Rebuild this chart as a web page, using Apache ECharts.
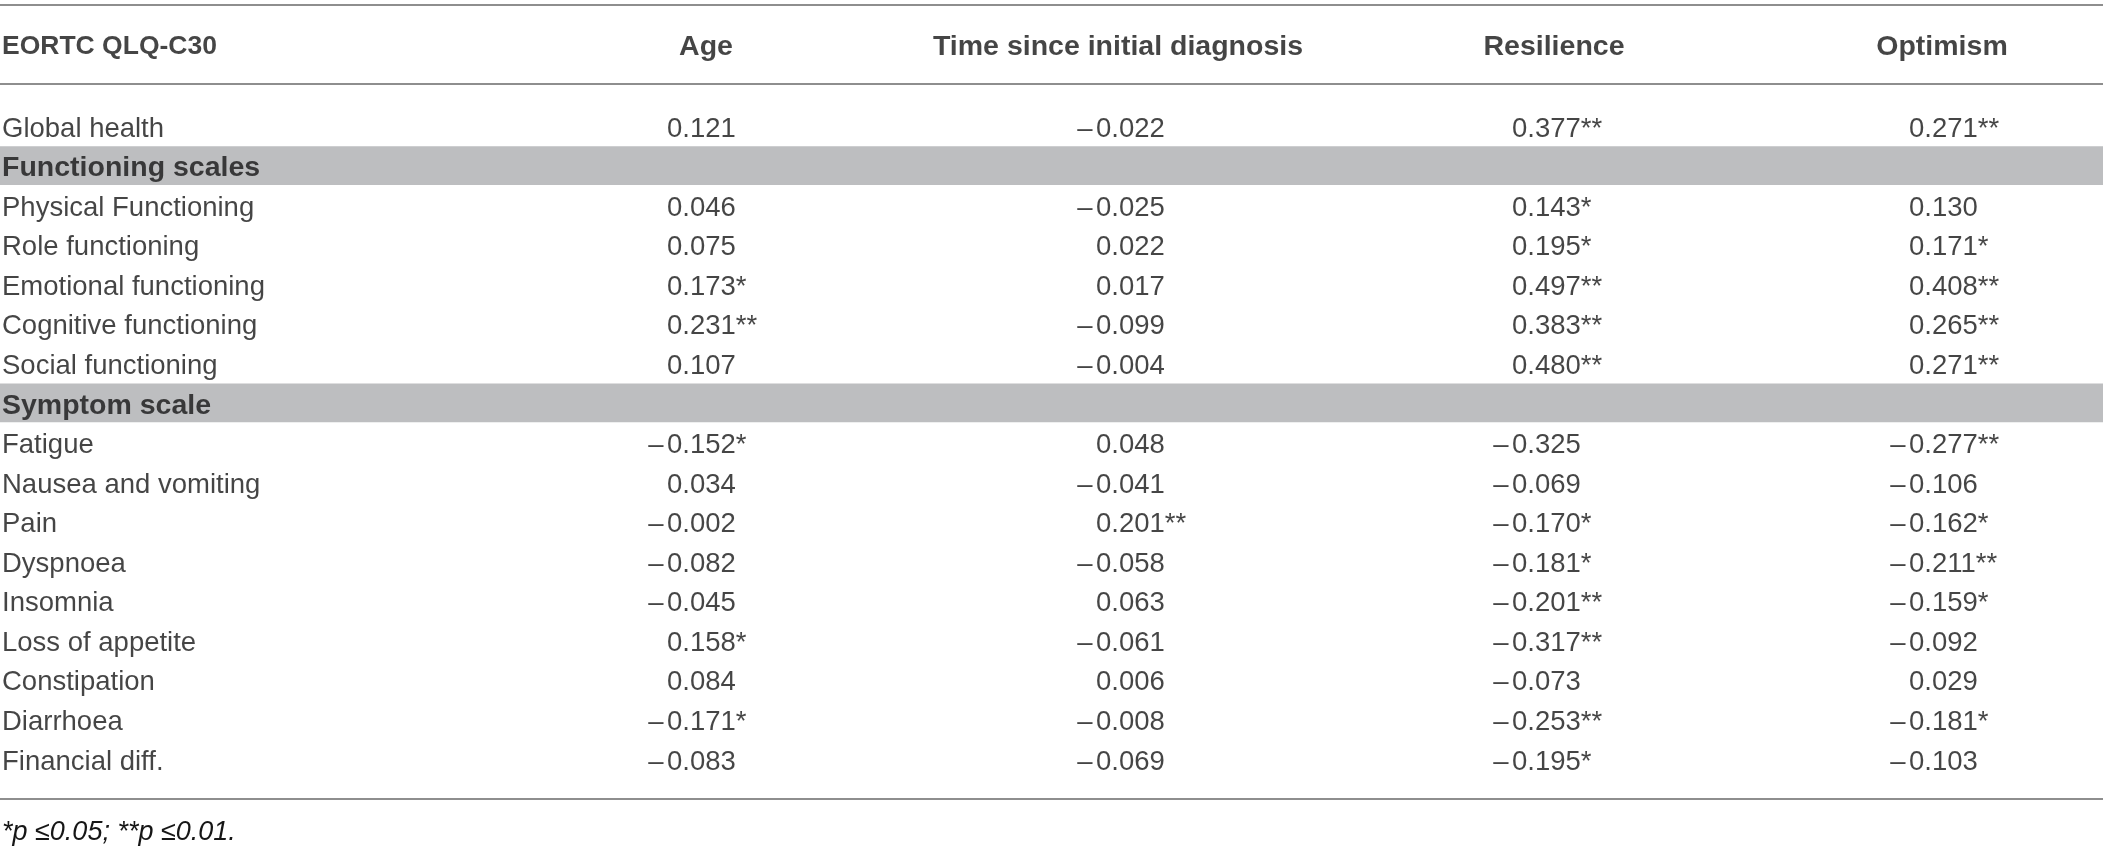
<!DOCTYPE html>
<html>
<head>
<meta charset="utf-8">
<script src="https://cdn.jsdelivr.net/npm/echarts@6/dist/echarts.min.js"></script>
<style>
    html, body { margin: 0; padding: 0; background: #fff; }
    #chart { width: 2103px; height: 857px; }
</style>
</head>
<body>
<div id="chart"></div>
<script>
// table content
const headers = ['EORTC QLQ-C30', 'Age', 'Time since initial diagnosis', 'Resilience', 'Optimism'];
const rowLabels = [
    'Global health', 'Functioning scales', 'Physical Functioning', 'Role functioning',
    'Emotional functioning', 'Cognitive functioning', 'Social functioning', 'Symptom scale',
    'Fatigue', 'Nausea and vomiting', 'Pain', 'Dyspnoea', 'Insomnia', 'Loss of appetite',
    'Constipation', 'Diarrhoea', 'Financial diff.'
];
const sectionRows = ['Functioning scales', 'Symptom scale'];

const age =        [0.121, null, 0.046, 0.075, 0.173, 0.231, 0.107, null, -0.152, 0.034, -0.002, -0.082, -0.045, 0.158, 0.084, -0.171, -0.083];
const ageSig =     ['', '', '', '', '*', '**', '', '', '*', '', '', '', '', '*', '', '*', ''];
const timeDx =     [-0.022, null, -0.025, 0.022, 0.017, -0.099, -0.004, null, 0.048, -0.041, 0.201, -0.058, 0.063, -0.061, 0.006, -0.008, -0.069];
const timeDxSig =  ['', '', '', '', '', '', '', '', '', '', '**', '', '', '', '', '', ''];
const resilience = [0.377, null, 0.143, 0.195, 0.497, 0.383, 0.480, null, -0.325, -0.069, -0.170, -0.181, -0.201, -0.317, -0.073, -0.253, -0.195];
const resilienceSig = ['**', '', '*', '*', '**', '**', '**', '', '', '', '*', '*', '**', '**', '', '**', '*'];
const optimism =   [0.271, null, 0.130, 0.171, 0.408, 0.265, 0.271, null, -0.277, -0.106, -0.162, -0.211, -0.159, -0.092, 0.029, -0.181, -0.103];
const optimismSig = ['**', '', '', '*', '**', '**', '**', '', '**', '', '*', '**', '*', '', '', '*', ''];
const footnote = '*p \u22640.05; **p \u22640.01.';

// layout (pixels)
const W = 2103, H = 857;
const ROW0 = 126, PITCH = 39.56;
const HEADER_ROW = -2.07;
const RULES = [-3.07, -1.06, 17.01];
const LABEL_X = 2;
const HEAD_X = [706, 1118, 1554, 1942];
const NUM_X = [667, 1096, 1512, 1909];
const SIGN_W = 22;
const TEXT_DY = 3;
const FONT = '"Liberation Sans", Arial, sans-serif';
const TEXT = '#161616';

const columns = [
    { values: age, sig: ageSig },
    { values: timeDx, sig: timeDxSig },
    { values: resilience, sig: resilienceSig },
    { values: optimism, sig: optimismSig }
];

function fmtCell(v, s) {
    const sign = v < 0 ? '\u2013' : '';
    return '{s|' + sign + '}{n|' + Math.abs(v).toFixed(3) + s + '}';
}

const chart = echarts.init(document.getElementById('chart'));

const series = [];

// row labels, bands and rules
series.push({
    type: 'scatter',
    symbolSize: 0,
    silent: true,
    data: rowLabels.map((name, i) => ({
        value: [LABEL_X, i],
        name: name,
        label: { fontWeight: sectionRows.includes(name) ? 'bold' : 'normal',
                 fontSize: sectionRows.includes(name) ? 28.5 : 27.5 }
    })),
    label: {
        show: true, position: 'right', distance: 0, offset: [0, TEXT_DY],
        formatter: p => p.name,
        fontFamily: FONT, color: TEXT
    },
    markArea: {
        silent: true,
        itemStyle: { color: '#bdbec0' },
        data: sectionRows.map(n => {
            const i = rowLabels.indexOf(n);
            return [{ yAxis: i - 0.49 }, { yAxis: i + 0.49 }];
        })
    },
    markLine: {
        silent: true,
        symbol: 'none',
        label: { show: false },
        lineStyle: { color: '#8e8e8e', width: 2, type: 'solid' },
        data: RULES.map(r => ({ yAxis: r }))
    },
    z: 3
});

// header row
series.push({
    type: 'scatter',
    symbolSize: 0,
    silent: true,
    data: headers.map((h, j) => ({
        value: [j === 0 ? LABEL_X : HEAD_X[j - 1], HEADER_ROW],
        name: h,
        label: j === 0 ? { position: 'right', distance: 0, fontSize: 26.5 }
                       : { position: 'inside', fontSize: 28.5 }
    })),
    label: {
        show: true, offset: [0, TEXT_DY],
        formatter: p => p.name,
        fontFamily: FONT, fontWeight: 'bold', color: TEXT
    },
    z: 3
});

// numeric columns
columns.forEach((col, j) => {
    series.push({
        type: 'scatter',
        symbolSize: 0,
        silent: true,
        data: col.values.map((v, i) => v === null ? null : {
            value: [NUM_X[j] - SIGN_W, i, v],
            name: fmtCell(v, col.sig[i])
        }).filter(d => d !== null),
        label: {
            show: true, position: 'right', distance: 0, offset: [0, TEXT_DY],
            formatter: p => p.name,
            fontFamily: FONT, fontSize: 27.5, color: TEXT,
            rich: {
                s: { width: SIGN_W, align: 'right', fontFamily: FONT, fontSize: 27.5, color: TEXT },
                n: { fontFamily: FONT, fontSize: 27.5, color: TEXT }
            }
        },
        z: 3
    });
});

const option = {
    animation: false,
    backgroundColor: '#fff',
    grid: { left: 0, right: 0, top: 0, bottom: 0 },
    xAxis: { type: 'value', min: 0, max: W, show: false },
    yAxis: {
        type: 'value', inverse: true, show: false,
        min: -ROW0 / PITCH, max: (H - ROW0) / PITCH
    },
    graphic: [{
        type: 'text',
        left: LABEL_X, top: 819,
        style: { text: footnote, font: 'italic 27px ' + FONT, fill: TEXT }
    }],
    series: series
};

chart.setOption(option);
</script>
</body>
</html>
